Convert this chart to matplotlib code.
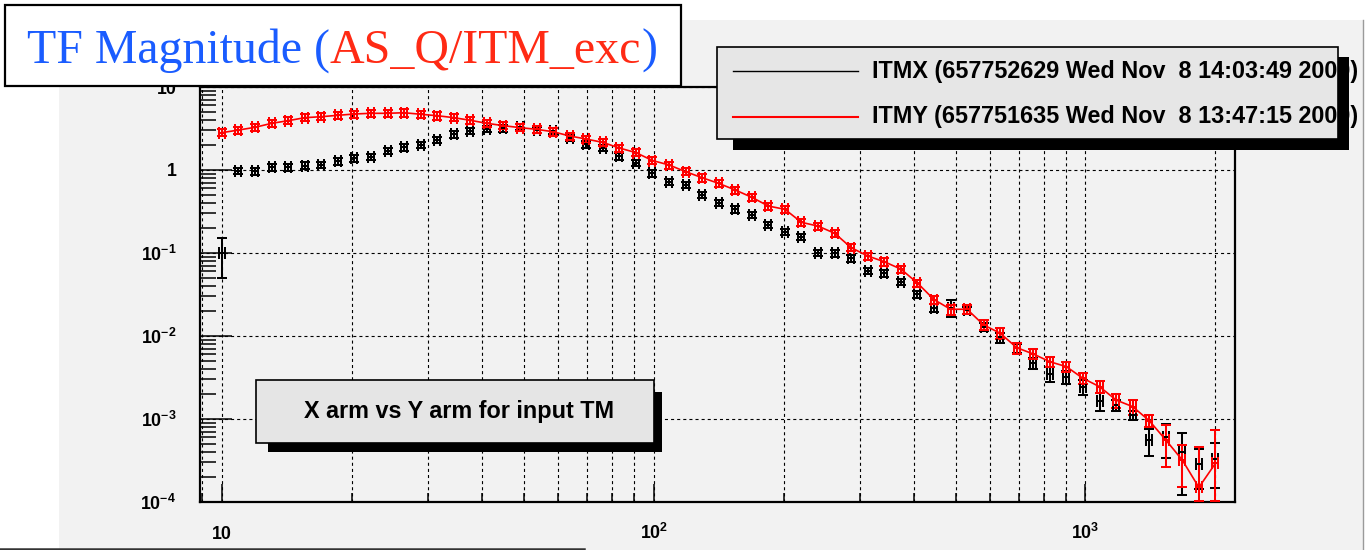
import numpy as np
import matplotlib
matplotlib.use('Agg')
import matplotlib.pyplot as plt
from matplotlib.path import Path
from matplotlib.patches import Rectangle
from matplotlib.lines import Line2D
from matplotlib.ticker import FixedLocator, FixedFormatter, NullFormatter, LogLocator

# ---------------- data ----------------
freq = [10.0, 10.92, 11.93, 13.03, 14.24, 15.55, 16.99, 18.56, 20.27, 22.14,
        24.18, 26.42, 28.86, 31.52, 34.43, 37.61, 41.08, 44.87, 49.01, 53.54,
        58.48, 63.88, 69.78, 76.22, 83.25, 90.94, 99.34, 108.5, 118.5, 129.5,
        141.4, 154.5, 168.7, 184.3, 201.3, 219.9, 240.2, 262.4, 286.6, 313.1,
        342.0, 373.6, 408.1, 445.7, 486.9, 531.8, 580.9, 634.6, 693.2, 757.2,
        827.1, 903.4, 986.8, 1078, 1178, 1286, 1405, 1535, 1676, 1831, 2000]

itmx = [0.10, 0.98, 0.96, 1.08, 1.08, 1.13, 1.15, 1.28, 1.38, 1.45,
        1.71, 1.88, 2.00, 2.30, 2.69, 2.98, 3.12, 3.18, 3.32, 3.03,
        2.95, 2.45, 2.04, 1.84, 1.47, 1.22, 0.912, 0.723, 0.659, 0.50,
        0.404, 0.336, 0.287, 0.217, 0.181, 0.157, 0.101, 0.099, 0.0863, 0.0612,
        0.0569, 0.0448, 0.032, 0.0218, 0.022, 0.0206, 0.0129, 0.00964, 0.0071, 0.00477,
        0.00348, 0.00323, 0.00245, 0.00166, 0.00148, 0.00112, 0.000559, 0.000601, 0.000404, 0.00029,
        0.00033]

itmy = [2.82, 3.03, 3.27, 3.65, 3.93, 4.27, 4.39, 4.56, 4.73, 4.82,
        4.82, 4.90, 4.69, 4.51, 4.27, 3.97, 3.65, 3.42, 3.24, 3.09,
        2.89, 2.57, 2.36, 2.15, 1.84, 1.62, 1.30, 1.15, 0.955, 0.807,
        0.69, 0.574, 0.469, 0.368, 0.336, 0.234, 0.211, 0.173, 0.116, 0.092,
        0.0785, 0.064, 0.0435, 0.0275, 0.021, 0.021, 0.0136, 0.0108, 0.00723, 0.00607,
        0.0049, 0.00427, 0.00309, 0.00245, 0.00169, 0.00141, 0.000955, 0.000559, 0.00032, 0.00015,
        0.000292]

# relative errors in percent
itmx_err_pct = [50, 9, 9, 9, 9, 9, 9, 9, 9, 9,
                9, 9, 9, 9, 9, 9, 9, 9, 9, 9,
                9, 9, 9, 9, 9, 9, 9, 9, 9, 9,
                9, 9, 9, 9, 9, 9, 9, 9, 9, 9,
                9, 9, 10, 10, 22, 10, 12, 14, 12, 15,
                20, 18, 20, 24, 15, 12, 36, 43, 70, 50,
                55]

itmy_err_pct = [10, 10, 10, 10, 10, 10, 10, 10, 10, 10,
                10, 10, 10, 10, 10, 10, 10, 10, 10, 10,
                10, 10, 10, 10, 10, 10, 10, 10, 10, 10,
                10, 10, 10, 10, 10, 10, 10, 10, 10, 10,
                10, 10, 10, 11, 14, 12, 14, 15, 15, 14,
                14, 14, 15, 17, 20, 20, 17, 53, 52, 204,
                152]

xtick_vals = [10, 100, 1000]
xtick_labels = ['10', r'$10^{2}$', r'$10^{3}$']
ytick_vals = [1e-4, 1e-3, 1e-2, 1e-1, 1, 10]
ytick_labels = [r'$10^{-4}$', r'$10^{-3}$', r'$10^{-2}$', r'$10^{-1}$', '1', '10']

title_parts = [("TF Magnitude (", '#1a5cff'), ("AS_Q/ITM_exc", '#ff2a14'), (")", '#1a5cff')]
legend_labels = ["ITMX (657752629 Wed Nov  8 14:03:49 2000)",
                 "ITMY (657751635 Wed Nov  8 13:47:15 2000)"]
note_text = "X arm vs Y arm for input TM"

# ---------------- style ----------------
plt.rcParams['font.family'] = ['Liberation Sans', 'DejaVu Sans']
plt.rcParams['font.weight'] = 'bold'
plt.rcParams['mathtext.fontset'] = 'custom'
plt.rcParams['mathtext.rm'] = 'Liberation Sans:bold'
plt.rcParams['mathtext.it'] = 'Liberation Sans:bold'
plt.rcParams['mathtext.bf'] = 'Liberation Sans:bold'
plt.rcParams['lines.scale_dashes'] = False

W, H = 1371, 550
fig = plt.figure(figsize=(W / 100, H / 100), dpi=100)
fig.patch.set_facecolor('white')


def fx(x):
    return x / W


def fy(y):
    return 1 - y / H


def frect(x0, y0, x1, y1, **kw):
    r = Rectangle((fx(x0), fy(y1)), (x1 - x0) / W, (y1 - y0) / H,
                  transform=fig.transFigure, **kw)
    fig.add_artist(r)
    return r


def fline(xs, ys, **kw):
    ln = Line2D([fx(v) for v in xs], [fy(v) for v in ys], transform=fig.transFigure, **kw)
    fig.add_artist(ln)
    return ln


# pad background
frect(59, 20, 1363, 552, facecolor='#f2f2f2', edgecolor='none', zorder=-10)
fline([1363, 1363], [20, 550], color='#9a9a9a', lw=1.0, zorder=-9)
fline([0, 584], [548.5, 548.5], color='#333333', lw=1.8, zorder=-9)

# axes
ax = fig.add_axes([fx(200), fy(502), 1035 / W, 415 / H])
ax.set_facecolor('#f2f2f2')
ax.set_xscale('log')
ax.set_yscale('log')
ax.set_xlim(8.893, 2220)
ax.set_ylim(1e-4, 10)
for s in ax.spines.values():
    s.set_linewidth(1.6)

ax.xaxis.set_major_locator(FixedLocator(xtick_vals))
ax.xaxis.set_major_formatter(FixedFormatter(xtick_labels))
ax.xaxis.set_minor_locator(LogLocator(base=10, subs=np.arange(2, 10), numticks=30))
ax.xaxis.set_minor_formatter(NullFormatter())
ax.yaxis.set_major_locator(FixedLocator(ytick_vals))
ax.yaxis.set_major_formatter(FixedFormatter(ytick_labels))
ax.yaxis.set_minor_locator(LogLocator(base=10, subs=np.arange(2, 10), numticks=30))
ax.yaxis.set_minor_formatter(NullFormatter())

ax.tick_params(axis='both', which='both', direction='in', top=False, right=False,
               width=1.1, color='k', labelsize=12.8)
ax.tick_params(axis='x', which='major', length=13, pad=26.6)
ax.tick_params(axis='x', which='minor', length=6.5)
ax.tick_params(axis='y', which='major', length=23, pad=17)
ax.tick_params(axis='y', which='minor', length=11.5)
for lbl in ax.get_xticklabels():
    lbl.set_verticalalignment('baseline')

grid_kw = dict(color='k', ls=(0, (2.2, 2.2)), lw=0.8)
ax.grid(True, which='major', axis='y', **grid_kw)
ax.grid(True, which='both', axis='x', **grid_kw)

# '#'-like marker: x-error caps + x-error bar
hash_path = Path([(-0.22, -0.5), (-0.22, 0.5), (0.22, -0.5), (0.22, 0.5), (-0.22, 0.0), (0.22, 0.0)],
                 [Path.MOVETO, Path.LINETO, Path.MOVETO, Path.LINETO, Path.MOVETO, Path.LINETO])

fr = np.array(freq)
ymin_floor = 1.02e-4


def draw_series(vals, pct, color, ms, cap, with_line):
    v = np.array(vals)
    err = v * np.array(pct) / 100.0
    lo = np.minimum(err, v - ymin_floor)
    if with_line:
        ax.plot(fr, v, color=color, lw=1.2, zorder=3)
    ax.errorbar(fr, v, yerr=[lo, err], fmt='none', ecolor=color, elinewidth=1.45,
                capsize=cap, capthick=1.45, zorder=3)
    ax.plot(fr, v, ls='none', marker=hash_path, ms=ms, mec=color, mfc='none',
            mew=1.45, zorder=4)


draw_series(itmx, itmx_err_pct, 'black', 8.3, 3.4, False)
draw_series(itmy, itmy_err_pct, 'red', 9.2, 3.9, True)

# ---------------- title box ----------------
frect(5, 5, 681, 86, facecolor='white', edgecolor='black', lw=1.6, zorder=5)
renderer = fig.canvas.get_renderer()
xcur = 27
for txt, col in title_parts:
    t = fig.text(fx(xcur), fy(63), txt, color=col, fontsize=34.5, fontweight='normal',
                 family=['Liberation Serif', 'DejaVu Serif'], ha='left', va='baseline', zorder=6)
    bb = t.get_window_extent(renderer)
    xcur += bb.width

# ---------------- legend ----------------
frect(1338, 57, 1349, 150, facecolor='black', edgecolor='none', zorder=5)
frect(733, 139, 1349, 150, facecolor='black', edgecolor='none', zorder=5)
frect(717, 47, 1338, 139, facecolor='#e6e6e6', edgecolor='black', lw=1.2, zorder=5.5)
fline([733, 858], [71, 71], color='black', lw=1.0, zorder=6)
fline([733, 858], [117, 117], color='red', lw=1.5, zorder=6)
fig.text(fx(872), fy(71), legend_labels[0], fontsize=16.8, fontweight='bold',
         ha='left', va='center', zorder=7)
fig.text(fx(872), fy(117), legend_labels[1], fontsize=16.8, fontweight='bold',
         ha='left', va='center', zorder=7)

# ---------------- note box ----------------
frect(654, 392, 662, 452, facecolor='black', edgecolor='none', zorder=5)
frect(268, 443, 662, 452, facecolor='black', edgecolor='none', zorder=5)
frect(256, 380, 654, 443, facecolor='#e5e5e5', edgecolor='black', lw=1.2, zorder=5.5)
fig.text(fx(459), fy(411.5), note_text, fontsize=16.8, fontweight='bold',
         ha='center', va='center', zorder=7)

fig.savefig('out.png', dpi=100)
